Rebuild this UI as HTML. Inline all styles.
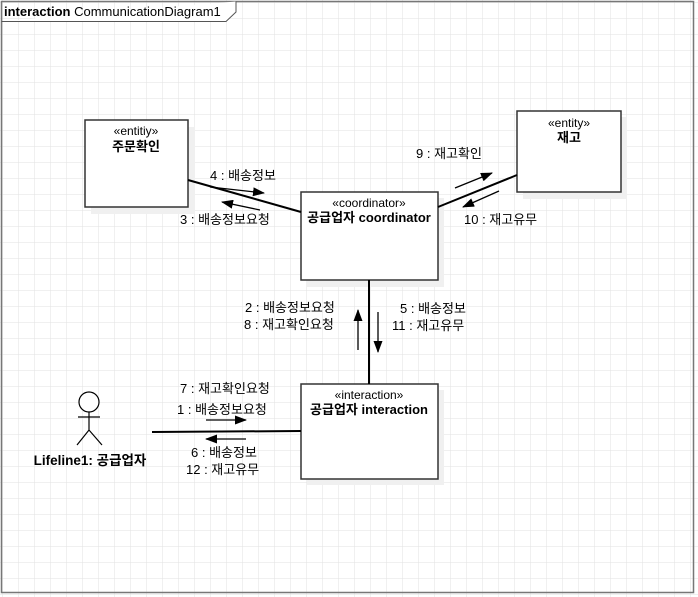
<!DOCTYPE html>
<html><head><meta charset="utf-8"><style>
html,body{margin:0;padding:0;background:#fff}
svg{display:block}
text{font-family:"Liberation Sans","Noto Sans CJK KR",sans-serif;fill:#000}
</style></head><body>
<svg width="698" height="597" viewBox="0 0 698 597" xmlns="http://www.w3.org/2000/svg">
<defs>
<pattern id="g" width="16" height="16" patternUnits="userSpaceOnUse" x="3" y="3">
<path d="M16 0V16M0 16H16" stroke="#e2e2e2" stroke-width="1" fill="none"/>
</pattern>
<marker id="a" markerWidth="12" markerHeight="9" refX="11" refY="4.5" orient="auto" markerUnits="userSpaceOnUse"><path d="M0,0L12,4.5L0,9z" fill="#000"/></marker>
</defs>
<rect x="0" y="0" width="698" height="597" fill="url(#g)"/>
<rect x="1.5" y="1.5" width="692" height="591" fill="none" stroke="#777" stroke-width="1.5"/>
<path d="M1.5 21.5H226L236 12V1.5" fill="#fff" stroke="#555" stroke-width="1"/>
<text x="4" y="16" font-size="13"><tspan font-weight="bold">interaction</tspan> CommunicationDiagram1</text>

<g fill="#f0f0f0"><rect x="91" y="127" width="104" height="87"/><rect x="523" y="117" width="104" height="82"/><rect x="307" y="198" width="137" height="89"/><rect x="307" y="390" width="137" height="95"/></g>
<g fill="#fff" stroke="#333" stroke-width="1.5">
<rect x="85" y="120" width="103" height="87"/>
<rect x="517" y="111" width="104" height="81"/>
<rect x="301" y="192" width="137" height="88"/>
<rect x="301" y="384" width="137" height="95"/>
</g>
<g text-anchor="middle" font-size="12">
<text x="136" y="135">«entitiy»</text><text x="136" y="151" font-weight="bold" font-size="13">주문확인</text>
<text x="569" y="127">«entity»</text><text x="569" y="142" font-weight="bold" font-size="13">재고</text>
<text x="369" y="207">«coordinator»</text><text x="369" y="222" font-weight="bold" font-size="13">공급업자 coordinator</text>
<text x="369" y="399">«interaction»</text><text x="369" y="414" font-weight="bold" font-size="13">공급업자 interaction</text>
<text x="90" y="465" font-weight="bold" font-size="13.5">Lifeline1: 공급업자</text>
</g>

<g stroke="#000" stroke-width="2" fill="none">
<path d="M188 180L301 212"/>
<path d="M438 207L517 175"/>
<path d="M369 280V384"/>
<path d="M152 432L301 431"/>
</g>
<g stroke="#000" stroke-width="1.3" fill="none" marker-end="url(#a)">
<path d="M210 187L264 193"/>
<path d="M260 210L222 202"/>
<path d="M455 188L492 173"/>
<path d="M499 191L463 207"/>
<path d="M358 350V310"/>
<path d="M378 312V352"/>
<path d="M206 420H246"/>
<path d="M246 439H206"/>
</g>
<g stroke="#000" stroke-width="1.2" fill="#fff">
<circle cx="89" cy="402" r="10"/>
<path d="M89 412V430M78 417H100M77 445L89 430L102 445" fill="none"/>
</g>
<g font-size="13" fill="#333">
<text x="210" y="180">4 : 배송정보</text>
<text x="180" y="224">3 : 배송정보요청</text>
<text x="416" y="158">9 : 재고확인</text>
<text x="464" y="224">10 : 재고유무</text>
<text x="245" y="312">2 : 배송정보요청</text>
<text x="244" y="329">8 : 재고확인요청</text>
<text x="400" y="313">5 : 배송정보</text>
<text x="392" y="330">11 : 재고유무</text>
<text x="180" y="393">7 : 재고확인요청</text>
<text x="177" y="414">1 : 배송정보요청</text>
<text x="191" y="457">6 : 배송정보</text>
<text x="186" y="474">12 : 재고유무</text>
</g>
</svg>
</body></html>
